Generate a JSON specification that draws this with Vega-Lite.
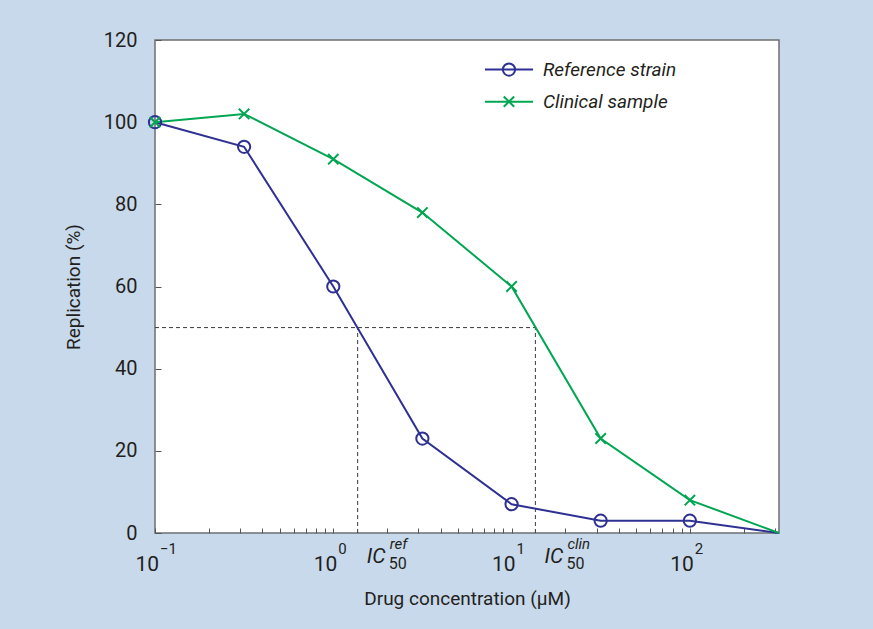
{
  "$schema": "https://vega.github.io/schema/vega-lite/v6.json",
  "width": 624,
  "height": 493,
  "autosize": "none",
  "padding": {"left": 155, "top": 40, "right": 94, "bottom": 96},
  "background": "#c8d9eb",
  "config": {
    "view": {"stroke": "#6d6e71", "strokeWidth": 1.5, "fill": "white"},
    "font": "Roboto",
    "text": {"font": "Roboto", "color": "#231f20"}
  },
  "datasets": {
    "curves": [
      {"conc": 0.1, "rep": 100, "series": "Reference strain", "marker": true},
      {"conc": 0.316, "rep": 94, "series": "Reference strain", "marker": true},
      {"conc": 1, "rep": 60, "series": "Reference strain", "marker": true},
      {"conc": 3.16, "rep": 23, "series": "Reference strain", "marker": true},
      {"conc": 10, "rep": 7, "series": "Reference strain", "marker": true},
      {"conc": 31.6, "rep": 3, "series": "Reference strain", "marker": true},
      {"conc": 100, "rep": 3, "series": "Reference strain", "marker": true},
      {"conc": 316.2, "rep": 0, "series": "Reference strain", "marker": false},
      {"conc": 0.1, "rep": 100, "series": "Clinical sample", "marker": true},
      {"conc": 0.316, "rep": 102, "series": "Clinical sample", "marker": true},
      {"conc": 1, "rep": 91, "series": "Clinical sample", "marker": true},
      {"conc": 3.16, "rep": 78, "series": "Clinical sample", "marker": true},
      {"conc": 10, "rep": 60, "series": "Clinical sample", "marker": true},
      {"conc": 31.6, "rep": 23, "series": "Clinical sample", "marker": true},
      {"conc": 100, "rep": 8, "series": "Clinical sample", "marker": true},
      {"conc": 316.2, "rep": 0, "series": "Clinical sample", "marker": false}
    ],
    "legend": [
      {"x1": 7.09, "x2": 13.2, "xm": 9.67, "xt": 15.0, "y": 112.8, "series": "Reference strain"},
      {"x1": 7.09, "x2": 13.2, "xm": 9.67, "xt": 15.0, "y": 105.0, "series": "Clinical sample"}
    ]
  },
  "layer": [
    {
      "data": {"values": [
        {"x": 0.1, "x2": 13.6, "y": 50, "y2": 50},
        {"x": 1.37, "x2": 1.37, "y": 0, "y2": 50},
        {"x": 13.6, "x2": 13.6, "y": 0, "y2": 50}
      ]},
      "mark": {"type": "rule", "color": "#3a3a3a", "strokeWidth": 1, "strokeDash": [4, 3]},
      "encoding": {
        "x": {"field": "x", "type": "quantitative", "scale": {"type": "log", "domain": [0.1, 316.2], "nice": false},
          "axis": {"title": "Drug concentration (μM)", "labels": false, "domain": false, "grid": false,
            "values": [0.1,0.2,0.3,0.4,0.5,0.6,0.7,0.8,0.9,1,2,3,4,5,6,7,8,9,10,20,30,40,50,60,70,80,90,100,200,300],
            "tickSize": -5, "tickColor": "#555555", "tickWidth": 1,
            "titleFont": "Roboto", "titleFontSize": 19, "titleFontWeight": "normal", "titleColor": "#231f20", "titlePadding": 56}},
        "x2": {"field": "x2"},
        "y": {"field": "y", "type": "quantitative", "scale": {"domain": [0, 120], "nice": false},
          "axis": {"title": "Replication (%)", "values": [0, 20, 40, 60, 80, 100, 120], "domain": false, "grid": false,
            "tickSize": -6, "tickColor": "#555555", "labelFont": "Roboto", "labelFontSize": 20, "labelColor": "#231f20", "labelPadding": 24,
            "titleFont": "Roboto", "titleFontSize": 19, "titleFontWeight": "normal", "titleColor": "#231f20", "titlePadding": 20}},
        "y2": {"field": "y2"}
      }
    },
    {
      "data": {"name": "curves"},
      "mark": {"type": "line", "strokeWidth": 2},
      "encoding": {
        "x": {"field": "conc", "type": "quantitative"},
        "y": {"field": "rep", "type": "quantitative"},
        "color": {"field": "series", "type": "nominal", "scale": {"domain": ["Reference strain", "Clinical sample"], "range": ["#2e3192", "#00a651"]}, "legend": null}
      }
    },
    {
      "data": {"name": "curves"},
      "transform": [{"filter": "datum.marker"}],
      "mark": {"type": "point", "filled": false, "strokeWidth": 2, "size": 150, "opacity": 1},
      "encoding": {
        "x": {"field": "conc", "type": "quantitative"},
        "y": {"field": "rep", "type": "quantitative"},
        "color": {"field": "series", "type": "nominal", "legend": null},
        "shape": {"field": "series", "type": "nominal", "scale": {"domain": ["Reference strain", "Clinical sample"], "range": ["circle", "M-0.85,-0.85L0.85,0.85M-0.85,0.85L0.85,-0.85"]}, "legend": null}
      }
    },
    {
      "data": {"name": "legend"},
      "mark": {"type": "rule", "strokeWidth": 2},
      "encoding": {
        "x": {"field": "x1", "type": "quantitative"},
        "x2": {"field": "x2"},
        "y": {"field": "y", "type": "quantitative"},
        "color": {"field": "series", "type": "nominal", "legend": null}
      }
    },
    {
      "data": {"name": "legend"},
      "mark": {"type": "point", "filled": false, "strokeWidth": 2, "size": 150, "opacity": 1},
      "encoding": {
        "x": {"field": "xm", "type": "quantitative"},
        "y": {"field": "y", "type": "quantitative"},
        "color": {"field": "series", "type": "nominal", "legend": null},
        "shape": {"field": "series", "type": "nominal", "legend": null}
      }
    },
    {
      "data": {"name": "legend"},
      "mark": {"type": "text", "align": "left", "baseline": "middle", "fontSize": 19, "fontStyle": "italic"},
      "encoding": {
        "x": {"field": "xt", "type": "quantitative"},
        "y": {"field": "y", "type": "quantitative"},
        "text": {"field": "series"}
      }
    },
    {
      "data": {"values": [{"x": 0.1, "sup": "−1"}, {"x": 1, "sup": "0"}, {"x": 10, "sup": "1"}, {"x": 100, "sup": "2"}]},
      "layer": [
        {
          "mark": {"type": "text", "align": "right", "baseline": "alphabetic", "fontSize": 21, "dx": 4, "dy": 38},
          "encoding": {"x": {"field": "x", "type": "quantitative"}, "y": {"datum": 0}, "text": {"value": "10"}}
        },
        {
          "mark": {"type": "text", "align": "left", "baseline": "alphabetic", "fontSize": 15, "dx": 5, "dy": 21},
          "encoding": {"x": {"field": "x", "type": "quantitative"}, "y": {"datum": 0}, "text": {"field": "sup"}}
        }
      ]
    },
    {
      "data": {"values": [{"x": 1.37, "lab": "ref"}, {"x": 13.6, "lab": "clin"}]},
      "layer": [
        {
          "mark": {"type": "text", "align": "left", "baseline": "alphabetic", "fontSize": 21, "fontStyle": "italic", "dx": 9, "dy": 30},
          "encoding": {"x": {"field": "x", "type": "quantitative"}, "y": {"datum": 0}, "text": {"value": "IC"}}
        },
        {
          "mark": {"type": "text", "align": "left", "baseline": "alphabetic", "fontSize": 16, "dx": 31, "dy": 36},
          "encoding": {"x": {"field": "x", "type": "quantitative"}, "y": {"datum": 0}, "text": {"value": "50"}}
        },
        {
          "mark": {"type": "text", "align": "left", "baseline": "alphabetic", "fontSize": 15, "fontStyle": "italic", "dx": 32, "dy": 16},
          "encoding": {"x": {"field": "x", "type": "quantitative"}, "y": {"datum": 0}, "text": {"field": "lab"}}
        }
      ]
    }
  ]
}
